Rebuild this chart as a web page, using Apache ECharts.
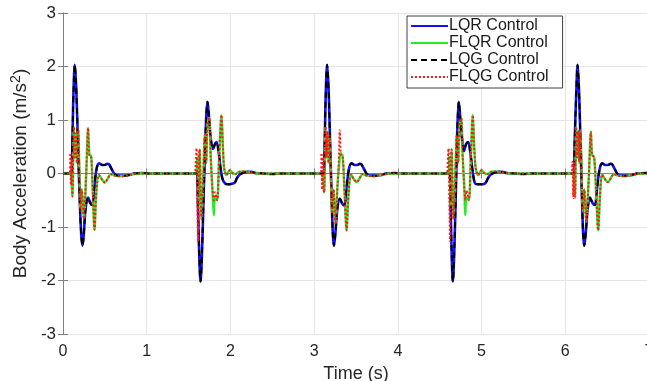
<!DOCTYPE html>
<html>
<head>
<meta charset="utf-8">
<script src="https://cdn.jsdelivr.net/npm/echarts@6/dist/echarts.min.js"></script>
<style>
html,body{margin:0;padding:0;background:#fff;}
#chart{width:647px;height:381px;}
</style>
</head>
<body>
<div id="chart"></div>
<script>
// ---- data: [time (s), acceleration (m/s^2)] ----
const xTicks = [0, 1, 2, 3, 4, 5, 6, 7];
const yTicks = [-3, -2, -1, 0, 1, 2, 3];
const seriesNames = ['LQR Control', 'FLQR Control', 'LQG Control', 'FLQG Control'];

const lqrData = [
  [0,0],[0.1,0],[0.112,0.6],[0.125,1.5],[0.141,2.03],[0.158,1.6],[0.18,0.5],[0.2,-0.5],[0.218,-1.15],[0.233,-1.35],[0.25,-1.1],[0.27,-0.65],[0.3,-0.45],[0.325,-0.55],[0.348,-0.59],[0.372,-0.3],[0.4,0.08],[0.432,0.19],[0.47,0.16],[0.5,0.16],[0.53,0.18],[0.551,0.17],[0.585,0.07],[0.62,-0.02],[0.66,-0.04],[0.7,-0.04],[0.74,-0.04],[0.78,-0.03],[0.85,0],[0.95,0.01],[1.05,0],[1.59,0],
  [1.6,0],[1.612,-0.6],[1.627,-1.5],[1.643,-2.02],[1.66,-1.5],[1.68,-0.4],[1.7,0.6],[1.714,1.15],[1.726,1.34],[1.742,1.1],[1.765,0.65],[1.793,0.46],[1.815,0.55],[1.834,0.59],[1.858,0.42],[1.882,0.1],[1.905,-0.1],[1.933,-0.18],[1.96,-0.2],[1.993,-0.2],[2.02,-0.19],[2.052,-0.17],[2.08,-0.08],[2.112,-0.02],[2.16,0.02],[2.21,0.03],[2.25,0.03],[2.3,0.01],[2.4,0],[2.5,-0.01],[2.6,0],[3.1,0],
  [3.114,0],[3.126,0.6],[3.139,1.5],[3.155,2.03],[3.172,1.6],[3.192,0.5],[3.21,-0.5],[3.224,-1.15],[3.237,-1.35],[3.255,-1.1],[3.278,-0.65],[3.307,-0.47],[3.335,-0.56],[3.359,-0.6],[3.385,-0.3],[3.415,0.08],[3.447,0.19],[3.485,0.16],[3.515,0.16],[3.545,0.18],[3.565,0.17],[3.6,0.07],[3.635,-0.02],[3.675,-0.04],[3.715,-0.04],[3.755,-0.04],[3.795,-0.03],[3.865,0],[3.965,0.01],[4.065,0],[4.6,0],
  [4.618,0],[4.63,-0.6],[4.643,-1.5],[4.657,-2.02],[4.675,-1.4],[4.695,-0.2],[4.712,0.9],[4.728,1.34],[4.745,1.05],[4.77,0.6],[4.79,0.42],[4.815,0.55],[4.84,0.59],[4.865,0.4],[4.89,0.08],[4.92,-0.18],[4.95,-0.2],[4.98,-0.2],[5.02,-0.2],[5.05,-0.17],[5.08,-0.08],[5.11,-0.02],[5.16,0.02],[5.21,0.03],[5.25,0.03],[5.3,0.01],[5.4,0],[5.5,-0.01],[5.6,0],[6.1,0],
  [6.112,0.6],[6.131,1.5],[6.147,2.03],[6.163,1.6],[6.183,0.5],[6.2,-0.5],[6.214,-1.15],[6.226,-1.35],[6.245,-1.1],[6.268,-0.65],[6.294,-0.45],[6.325,-0.55],[6.354,-0.59],[6.378,-0.3],[6.41,0.08],[6.441,0.19],[6.48,0.16],[6.51,0.16],[6.54,0.18],[6.56,0.17],[6.595,0.07],[6.63,-0.02],[6.67,-0.04],[6.71,-0.04],[6.75,-0.04],[6.79,-0.03],[6.86,0],[6.96,0.01],[7,0]
];

// LQG coincides with LQR everywhere in the picture
const lqgData = [
  [0,0],[0.1,0],[0.112,0.6],[0.125,1.5],[0.141,2.03],[0.158,1.6],[0.18,0.5],[0.2,-0.5],[0.218,-1.15],[0.233,-1.35],[0.25,-1.1],[0.27,-0.65],[0.3,-0.45],[0.325,-0.55],[0.348,-0.59],[0.372,-0.3],[0.4,0.08],[0.432,0.19],[0.47,0.16],[0.5,0.16],[0.53,0.18],[0.551,0.17],[0.585,0.07],[0.62,-0.02],[0.66,-0.04],[0.7,-0.04],[0.74,-0.04],[0.78,-0.03],[0.85,0],[0.95,0.01],[1.05,0],[1.59,0],
  [1.6,0],[1.612,-0.6],[1.627,-1.5],[1.643,-2.02],[1.66,-1.5],[1.68,-0.4],[1.7,0.6],[1.714,1.15],[1.726,1.34],[1.742,1.1],[1.765,0.65],[1.793,0.46],[1.815,0.55],[1.834,0.59],[1.858,0.42],[1.882,0.1],[1.905,-0.1],[1.933,-0.18],[1.96,-0.2],[1.993,-0.2],[2.02,-0.19],[2.052,-0.17],[2.08,-0.08],[2.112,-0.02],[2.16,0.02],[2.21,0.03],[2.25,0.03],[2.3,0.01],[2.4,0],[2.5,-0.01],[2.6,0],[3.1,0],
  [3.114,0],[3.126,0.6],[3.139,1.5],[3.155,2.03],[3.172,1.6],[3.192,0.5],[3.21,-0.5],[3.224,-1.15],[3.237,-1.35],[3.255,-1.1],[3.278,-0.65],[3.307,-0.47],[3.335,-0.56],[3.359,-0.6],[3.385,-0.3],[3.415,0.08],[3.447,0.19],[3.485,0.16],[3.515,0.16],[3.545,0.18],[3.565,0.17],[3.6,0.07],[3.635,-0.02],[3.675,-0.04],[3.715,-0.04],[3.755,-0.04],[3.795,-0.03],[3.865,0],[3.965,0.01],[4.065,0],[4.6,0],
  [4.618,0],[4.63,-0.6],[4.643,-1.5],[4.657,-2.02],[4.675,-1.4],[4.695,-0.2],[4.712,0.9],[4.728,1.34],[4.745,1.05],[4.77,0.6],[4.79,0.42],[4.815,0.55],[4.84,0.59],[4.865,0.4],[4.89,0.08],[4.92,-0.18],[4.95,-0.2],[4.98,-0.2],[5.02,-0.2],[5.05,-0.17],[5.08,-0.08],[5.11,-0.02],[5.16,0.02],[5.21,0.03],[5.25,0.03],[5.3,0.01],[5.4,0],[5.5,-0.01],[5.6,0],[6.1,0],
  [6.112,0.6],[6.131,1.5],[6.147,2.03],[6.163,1.6],[6.183,0.5],[6.2,-0.5],[6.214,-1.15],[6.226,-1.35],[6.245,-1.1],[6.268,-0.65],[6.294,-0.45],[6.325,-0.55],[6.354,-0.59],[6.378,-0.3],[6.41,0.08],[6.441,0.19],[6.48,0.16],[6.51,0.16],[6.54,0.18],[6.56,0.17],[6.595,0.07],[6.63,-0.02],[6.67,-0.04],[6.71,-0.04],[6.75,-0.04],[6.79,-0.03],[6.86,0],[6.96,0.01],[7,0]
];

const flqrData = [
  [0,0],[0.085,0],[0.1,-0.15],[0.113,-0.43],[0.129,0.87],[0.14,0.3],[0.153,0.75],[0.165,0.2],[0.181,0.85],[0.195,0.1],[0.209,-0.7],[0.225,-0.3],[0.249,-0.85],[0.275,-0.1],[0.3,0.85],[0.315,0.35],[0.336,0.33],[0.355,-0.3],[0.376,-1.05],[0.4,-0.3],[0.43,-0.03],[0.47,-0.12],[0.5,-0.17],[0.54,-0.08],[0.57,-0.01],[0.62,-0.04],[0.7,-0.05],[0.78,-0.03],[0.9,0],[1.58,0],
  [1.59,0],[1.605,0.3],[1.62,-0.6],[1.632,0.45],[1.654,-0.85],[1.672,-0.3],[1.694,0.72],[1.71,0.2],[1.725,0.9],[1.746,1.04],[1.765,0.3],[1.785,-0.3],[1.802,-0.78],[1.815,-0.45],[1.841,-0.5],[1.865,0.3],[1.893,1.09],[1.91,0.5],[1.925,0.1],[1.953,-0.03],[1.993,0.06],[2.03,0],[2.06,-0.01],[2.1,0.03],[2.15,0.04],[2.23,0.03],[2.32,0],[3.08,0],
  [3.105,-0.1],[3.12,-0.35],[3.135,0.87],[3.147,0.3],[3.16,0.78],[3.172,0.2],[3.185,0.7],[3.2,0],[3.215,-0.75],[3.232,-0.3],[3.255,-0.95],[3.28,-0.2],[3.3,0.2],[3.315,0.38],[3.34,0.33],[3.365,-0.4],[3.387,-1.06],[3.41,-0.4],[3.44,-0.02],[3.48,-0.12],[3.51,-0.16],[3.55,-0.07],[3.58,-0.01],[3.63,-0.04],[3.71,-0.05],[3.79,-0.03],[3.91,0],[4.6,0],
  [4.615,0.3],[4.63,-0.6],[4.642,0.45],[4.664,-0.85],[4.682,-0.3],[4.704,0.72],[4.72,0.2],[4.735,0.9],[4.756,1.04],[4.775,0.3],[4.795,-0.3],[4.805,-0.78],[4.82,-0.45],[4.848,-0.5],[4.872,0.3],[4.895,1.09],[4.912,0.5],[4.93,0.1],[4.96,-0.03],[5.0,0.06],[5.04,0],[5.07,-0.01],[5.11,0.03],[5.16,0.04],[5.24,0.03],[5.33,0],[6.08,0],
  [6.1,-0.1],[6.115,-0.45],[6.13,0.87],[6.142,0.3],[6.155,0.8],[6.167,0.2],[6.18,0.8],[6.195,0.05],[6.21,-0.7],[6.228,-0.3],[6.25,-0.9],[6.28,-0.1],[6.306,0.78],[6.32,0.35],[6.345,0.3],[6.37,-0.4],[6.393,-1.06],[6.415,-0.4],[6.44,-0.02],[6.48,-0.12],[6.51,-0.16],[6.55,-0.07],[6.58,-0.01],[6.63,-0.04],[6.71,-0.05],[6.79,-0.03],[6.9,0],[7,0]
];

const flqgData = [
  [0,0],[0.08,0],[0.088,0.38],[0.095,-0.21],[0.102,0.3],[0.108,-0.2],[0.113,-0.43],[0.129,0.87],[0.14,0.3],[0.153,0.75],[0.165,0.2],[0.181,0.85],[0.195,0.1],[0.209,-0.7],[0.225,-0.3],[0.249,-0.85],[0.275,-0.1],[0.3,0.85],[0.315,0.35],[0.336,0.33],[0.355,-0.3],[0.376,-1.05],[0.4,-0.3],[0.43,-0.03],[0.47,-0.12],[0.5,-0.17],[0.54,-0.08],[0.57,-0.01],[0.62,-0.04],[0.7,-0.05],[0.78,-0.03],[0.9,0],[1.58,0],
  [1.587,0],[1.595,0.47],[1.605,-0.5],[1.614,-1.27],[1.624,0.3],[1.632,0.45],[1.654,-0.85],[1.672,-0.3],[1.694,0.72],[1.71,0.2],[1.725,0.9],[1.746,1.04],[1.765,0.3],[1.785,-0.3],[1.8,-0.5],[1.815,-0.35],[1.841,-0.5],[1.865,0.3],[1.893,1.09],[1.91,0.5],[1.925,0.1],[1.953,-0.03],[1.993,0.06],[2.03,0],[2.06,-0.01],[2.1,0.03],[2.15,0.04],[2.23,0.03],[2.32,0],[3.08,0],
  [3.088,0.38],[3.095,-0.3],[3.102,0.3],[3.108,-0.2],[3.12,-0.35],[3.135,0.87],[3.147,0.3],[3.16,0.78],[3.172,0.2],[3.185,0.7],[3.2,0],[3.215,-0.75],[3.232,-0.3],[3.255,-0.95],[3.28,-0.2],[3.292,0.1],[3.307,0.81],[3.32,0.35],[3.34,0.33],[3.365,-0.4],[3.387,-1.06],[3.41,-0.4],[3.44,-0.02],[3.48,-0.12],[3.51,-0.16],[3.55,-0.07],[3.58,-0.01],[3.63,-0.04],[3.71,-0.05],[3.79,-0.03],[3.91,0],[4.59,0],
  [4.597,0],[4.605,0.47],[4.615,-0.5],[4.625,-1.27],[4.634,0.3],[4.642,0.45],[4.664,-0.85],[4.682,-0.3],[4.704,0.72],[4.72,0.2],[4.735,0.9],[4.756,1.04],[4.775,0.3],[4.795,-0.3],[4.805,-0.5],[4.82,-0.32],[4.848,-0.5],[4.872,0.3],[4.895,1.09],[4.912,0.5],[4.93,0.1],[4.96,-0.03],[5.0,0.06],[5.04,0],[5.07,-0.01],[5.11,0.03],[5.16,0.04],[5.24,0.03],[5.33,0],[6.075,0],
  [6.085,0.22],[6.095,-0.46],[6.105,0.2],[6.112,-0.4],[6.118,-0.45],[6.13,0.87],[6.142,0.3],[6.155,0.8],[6.167,0.2],[6.18,0.8],[6.195,0.05],[6.21,-0.7],[6.228,-0.3],[6.25,-0.9],[6.28,-0.1],[6.306,0.78],[6.32,0.35],[6.345,0.3],[6.37,-0.4],[6.393,-1.06],[6.415,-0.4],[6.44,-0.02],[6.48,-0.12],[6.51,-0.16],[6.55,-0.07],[6.58,-0.01],[6.63,-0.04],[6.71,-0.05],[6.79,-0.03],[6.9,0],[7,0]
];

const FONT = 'Liberation Sans, Arial, Helvetica, sans-serif';
const chart = echarts.init(document.getElementById('chart'), null, {renderer: 'canvas'});

const axisCommon = {
  axisLine: {show: true, lineStyle: {color: '#808080', width: 1}},
  axisTick: {show: true, inside: true, length: 5, lineStyle: {color: '#808080'}},
  splitLine: {show: true, lineStyle: {color: '#e6e6e6', width: 1}}
};

chart.setOption({
  animation: false,
  backgroundColor: '#ffffff',
  grid: {left: 63, right: -2, top: 13, bottom: 47, containLabel: false, outerBoundsMode: 'none'},
  legend: {
    orient: 'vertical',
    left: 407, top: 16,
    padding: [2, 14, 3, 3],
    itemWidth: 37, itemHeight: 12, itemGap: 1,
    backgroundColor: '#ffffff',
    borderColor: '#404040', borderWidth: 1,
    itemStyle: {opacity: 0},
    textStyle: {fontFamily: FONT, fontSize: 16, lineHeight: 16, color: '#1a1a1a', padding: [0, 0, 0, -4]},
    data: seriesNames
  },
  xAxis: [
    Object.assign({
      type: 'value', min: xTicks[0], max: xTicks[xTicks.length - 1], interval: 1,
      position: 'bottom',
      name: 'Time (s)', nameLocation: 'middle', nameGap: 24,
      nameTextStyle: {fontFamily: FONT, fontSize: 18, color: '#262626'},
      axisLabel: {fontFamily: FONT, fontSize: 16, color: '#262626', margin: 10}
    }, axisCommon),
    Object.assign({
      type: 'value', min: xTicks[0], max: xTicks[xTicks.length - 1], interval: 1,
      position: 'top', axisLabel: {show: false}
    }, axisCommon, {splitLine: {show: false}})
  ],
  yAxis: [
    Object.assign({
      type: 'value', min: yTicks[0], max: yTicks[yTicks.length - 1], interval: 1,
      position: 'left',
      name: 'Body Acceleration (m/s{sup|2})', nameLocation: 'middle', nameGap: 31, nameRotate: 90,
      nameTextStyle: {fontFamily: FONT, fontSize: 19, color: '#262626',
        rich: {sup: {fontFamily: FONT, fontSize: 14, color: '#262626', verticalAlign: 'top', padding: [0, 0, 9, 0]}}},
      axisLabel: {fontFamily: FONT, fontSize: 17, color: '#262626', margin: 7}
    }, axisCommon),
    Object.assign({
      type: 'value', min: yTicks[0], max: yTicks[yTicks.length - 1], interval: 1,
      position: 'right', axisLabel: {show: false}
    }, axisCommon, {splitLine: {show: false}})
  ],
  series: [
    {name: seriesNames[0], type: 'line', data: lqrData, symbol: 'none', smooth: 0.35,
     itemStyle: {color: '#1010ff'}, lineStyle: {color: '#1010ff', width: 2.6}},
    {name: seriesNames[1], type: 'line', data: flqrData, symbol: 'none', smooth: 0.3,
     itemStyle: {color: '#22ee22'}, lineStyle: {color: '#22ee22', width: 2.4}},
    {name: seriesNames[2], type: 'line', data: lqgData, symbol: 'none', smooth: 0.35,
     itemStyle: {color: '#000000'}, lineStyle: {color: '#000000', width: 2, type: [6, 4]}},
    {name: seriesNames[3], type: 'line', data: flqgData, symbol: 'none', smooth: 0.3,
     itemStyle: {color: '#ff1a1a'}, lineStyle: {color: '#ff1a1a', width: 2, type: [2, 2]}}
  ]
});
</script>
</body>
</html>
